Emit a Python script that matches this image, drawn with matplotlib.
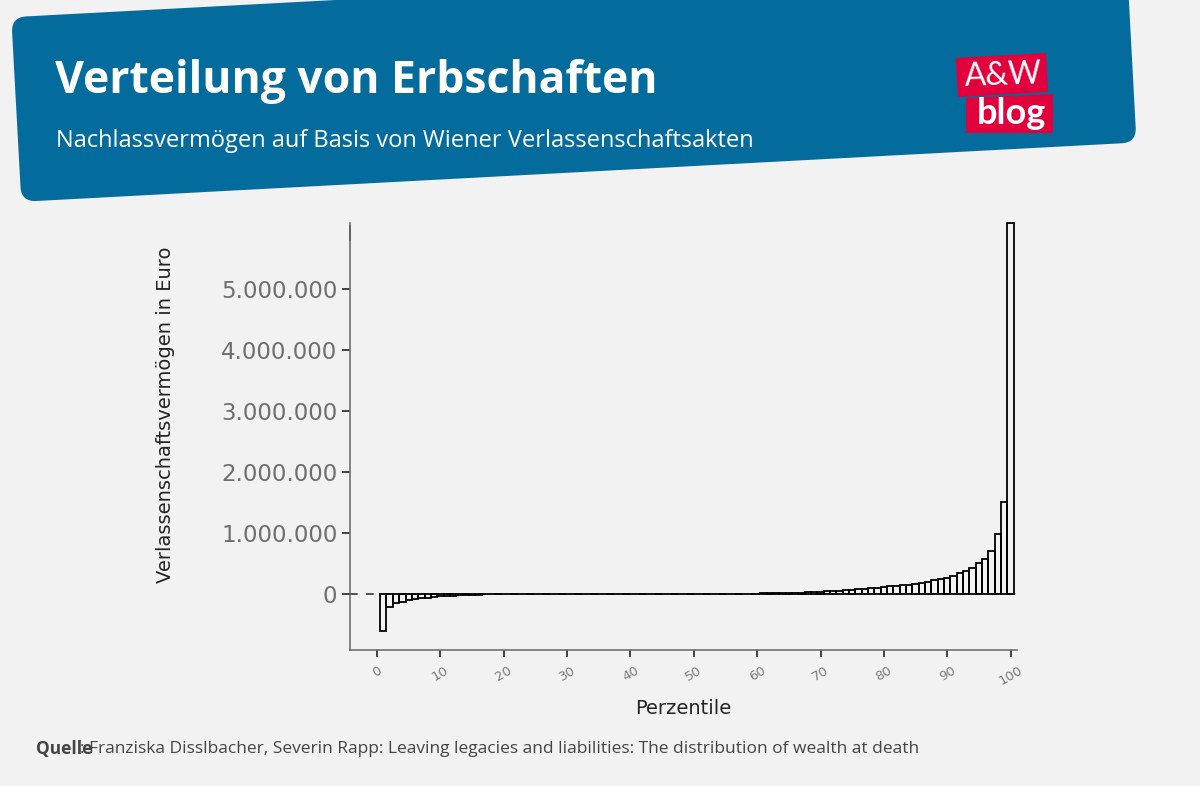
"""
Verteilung von Erbschaften - Nachlassvermoegen nach Perzentilen
"""
import numpy as np
import matplotlib
matplotlib.use("Agg")
import matplotlib.pyplot as plt
from matplotlib.patches import PathPatch, Polygon
from matplotlib.path import Path

W, H = 1200, 786
BG = "#f2f2f2"; BLUE = "#046c9c"; RED = "#e2003c"
NARROW = ["Liberation Sans Narrow", "Open Sans"]

# values in euro, one bar per percentile 1..100
perc = list(range(1, 101))
val_low = [-600000, -210000, -155000, -125000, -100000, -85000, -70000, -60000, -48000, -40000,
           -32000, -26000, -21000, -17000, -13000, -10000, -8000, -6000, -4000, -3000,
           -2000, -2000, -1000, -1000, -1000, -1000, -500, -500, -500, -300]
val_mid = [-200, -100, 0, 0, 0, 0, 100, 200, 300, 400,
           500, 600, 700, 800, 900, 1000, 1200, 1400, 1600, 1800,
           2000, 2300, 2600, 3000, 3400, 3800, 4200, 4700, 5200, 6000,
           8000, 10000, 12000, 14000, 17000, 20000, 23000, 27000, 31000, 36000]
val_high = [42000, 48000, 55000, 62000, 70000, 80000, 88000, 97000, 105000, 115000,
            126000, 137000, 142000, 153000, 165000, 175000, 197000, 225000, 245000, 270000,
            300000, 340000, 380000, 430000, 500000, 580000, 710000, 980000, 1500000, 6080000]
values = val_low + val_mid + val_high
xticks = [0, 10, 20, 30, 40, 50, 60, 70, 80, 90, 100]
yticks = [0, 1000000, 2000000, 3000000, 4000000, 5000000]
ylabels = ["0", "1.000.000", "2.000.000", "3.000.000", "4.000.000", "5.000.000"]

def rounded(pts, r):
    # closed polygon with rounded corners, pixel coordinates
    pts = [np.array(p, float) for p in pts]
    verts, codes = [], []
    n = len(pts)
    for i, p in enumerate(pts):
        a = p + (pts[i - 1] - p) / np.linalg.norm(pts[i - 1] - p) * r
        b = p + (pts[(i + 1) % n] - p) / np.linalg.norm(pts[(i + 1) % n] - p) * r
        verts += [a, p, b]
        codes += [Path.MOVETO if i == 0 else Path.LINETO, Path.CURVE3, Path.CURVE3]
    verts.append(verts[0]); codes.append(Path.CLOSEPOLY)
    return Path(verts, codes)

fig = plt.figure(figsize=(W / 100, H / 100), dpi=100, facecolor=BG)

# overlay in pixel coordinates for banner, logo and texts
bg = fig.add_axes([0, 0, 1, 1], zorder=0)
bg.set_xlim(0, W); bg.set_ylim(H, 0); bg.axis("off")
bg.add_patch(PathPatch(rounded([(11.3, 17.2), (1126.6, -42), (1136.5, 142.5), (21.3, 201.8)], 15),
                       fc=BLUE, ec="none"))
bg.text(55, 81, "Verteilung von Erbschaften", color="white", family=NARROW, weight="bold",
        fontsize=32, va="center", ha="left")
bg.text(56, 141, "Nachlassvermögen auf Basis von Wiener Verlassenschaftsakten", color="white",
        family=NARROW, fontsize=17, va="center", ha="left")

bg.add_patch(Polygon([(955.7, 58), (1046, 53), (1048, 92), (958, 97)], fc=RED, ec="none"))
bg.add_patch(Polygon([(966, 98), (1053, 94), (1053, 133), (966, 133)], fc=RED, ec="none"))
bg.text(1003, 76, "A&W", color="white", family="Lato", fontsize=23, rotation=2,
        ha="center", va="center", rotation_mode="anchor")
bg.text(1011, 113, "blog", color="white", family="Lato", weight="bold", fontsize=26,
        ha="center", va="center")

t = bg.text(36, 749, "Quelle", color="#444444", family=NARROW, weight="bold", fontsize=12.5,
            ha="left", va="center")
bg.text(80, 749, ": Franziska Disslbacher, Severin Rapp: Leaving legacies and liabilities: "
        "The distribution of wealth at death", color="#444444", family=NARROW, fontsize=12.5,
        ha="left", va="center")
bg.plot([350, 350], [226, 240], color="#333333", lw=1.1)

# chart
ax = fig.add_axes([350 / W, 1 - 650 / H, (1017 - 350) / W, (650 - 223) / H], zorder=1)
ax.patch.set_alpha(0)
ax.set_xlim(-4.26, 101.0)
ax.set_ylim(-918000, 6080000)
ax.axhline(0, color="#222222", lw=1.1, dashes=(5, 5.5), zorder=1)
ax.bar(perc, values, width=1, facecolor="none", edgecolor="black", linewidth=1.3, zorder=2,
       clip_on=False)

for s in ["top", "right"]:
    ax.spines[s].set_visible(False)
for s in ["left", "bottom"]:
    ax.spines[s].set_color("#666666"); ax.spines[s].set_linewidth(1.1)
ax.set_xticks(xticks)
ax.set_yticks(yticks, ylabels)
ax.tick_params(axis="y", labelsize=16.5, labelcolor="#6e6e6e", color="#333333", width=1.3, length=6, pad=3)
ax.tick_params(axis="x", labelsize=9.5, labelcolor="#7a7a7a", color="#333333", width=1.3, length=5,
               pad=5, labelrotation=30)
ax.set_xlabel("Perzentile", fontsize=14, color="#222222", labelpad=8)
ax.set_ylabel("Verlassenschaftsvermögen in Euro", fontsize=14, color="#222222")
ax.yaxis.set_label_coords((175 - 350) / (1017 - 350), (650 - 415) / (650 - 223))

fig.savefig("out.png", dpi=100, facecolor=BG)
